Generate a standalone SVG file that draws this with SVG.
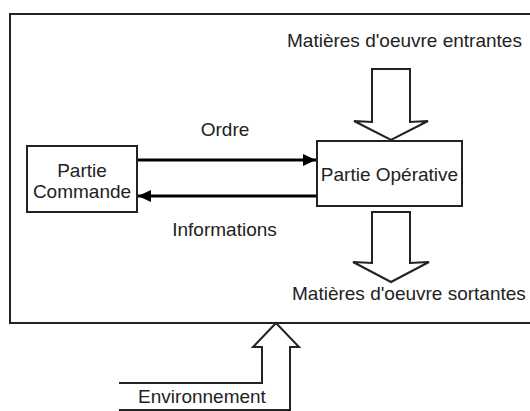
<svg xmlns="http://www.w3.org/2000/svg" width="530" height="411" viewBox="0 0 530 411">
<style>
text{font-family:"Liberation Sans",Arial,sans-serif;font-size:19px;fill:#222}
.box{fill:#fff;stroke:#222;stroke-width:2}
.big{fill:#fff;stroke:#222;stroke-width:2;stroke-linejoin:miter}
.conn{stroke:#000;stroke-width:3;fill:none}
</style>
<defs>
<marker id="ah" markerUnits="userSpaceOnUse" markerWidth="14" markerHeight="12" refX="13" refY="6" orient="auto">
<path d="M0,0 L13,6 L0,12 Z" fill="#000"/>
</marker>
</defs>
<rect width="530" height="411" fill="#fff"/>
<g id="frame">
<path d="M545,14 H10 V323 H545" fill="none" stroke="#222" stroke-width="2"/>
</g>
<g id="connectors">
<line class="conn" x1="137" y1="160" x2="316" y2="160" marker-end="url(#ah)"/>
<line class="conn" x1="317" y1="196" x2="138" y2="196" marker-end="url(#ah)"/>
</g>
<g id="partie-commande">
<rect class="box" x="27" y="146" width="110" height="66"/>
<text x="82" y="177" text-anchor="middle">Partie</text>
<text x="82" y="198" text-anchor="middle">Commande</text>
</g>
<g id="partie-operative">
<rect class="box" x="317" y="141" width="145" height="65"/>
<text x="389.5" y="181" text-anchor="middle">Partie Opérative</text>
</g>
<g id="entrantes">
<text x="287" y="47">Matières d'oeuvre entrantes</text>
<polygon class="big" points="372,69 410,69 410,122 428,121 391,140 354,121 372,122"/>
</g>
<g id="sortantes">
<polygon class="big" points="372,212 410,212 410,263 429,262 391,282 353,262 372,263"/>
<text x="292" y="300">Matières d'oeuvre sortantes</text>
</g>
<g id="environnement">
<polyline class="big" points="119,383 262,383 262,347 253,347 276,323 299,347 290,347 290,410 119,410" style="fill:none"/>
<text x="202" y="403" text-anchor="middle">Environnement</text>
</g>
<g id="labels">
<text x="225" y="136" text-anchor="middle">Ordre</text>
<text x="224.5" y="236" text-anchor="middle">Informations</text>
</g>
</svg>
